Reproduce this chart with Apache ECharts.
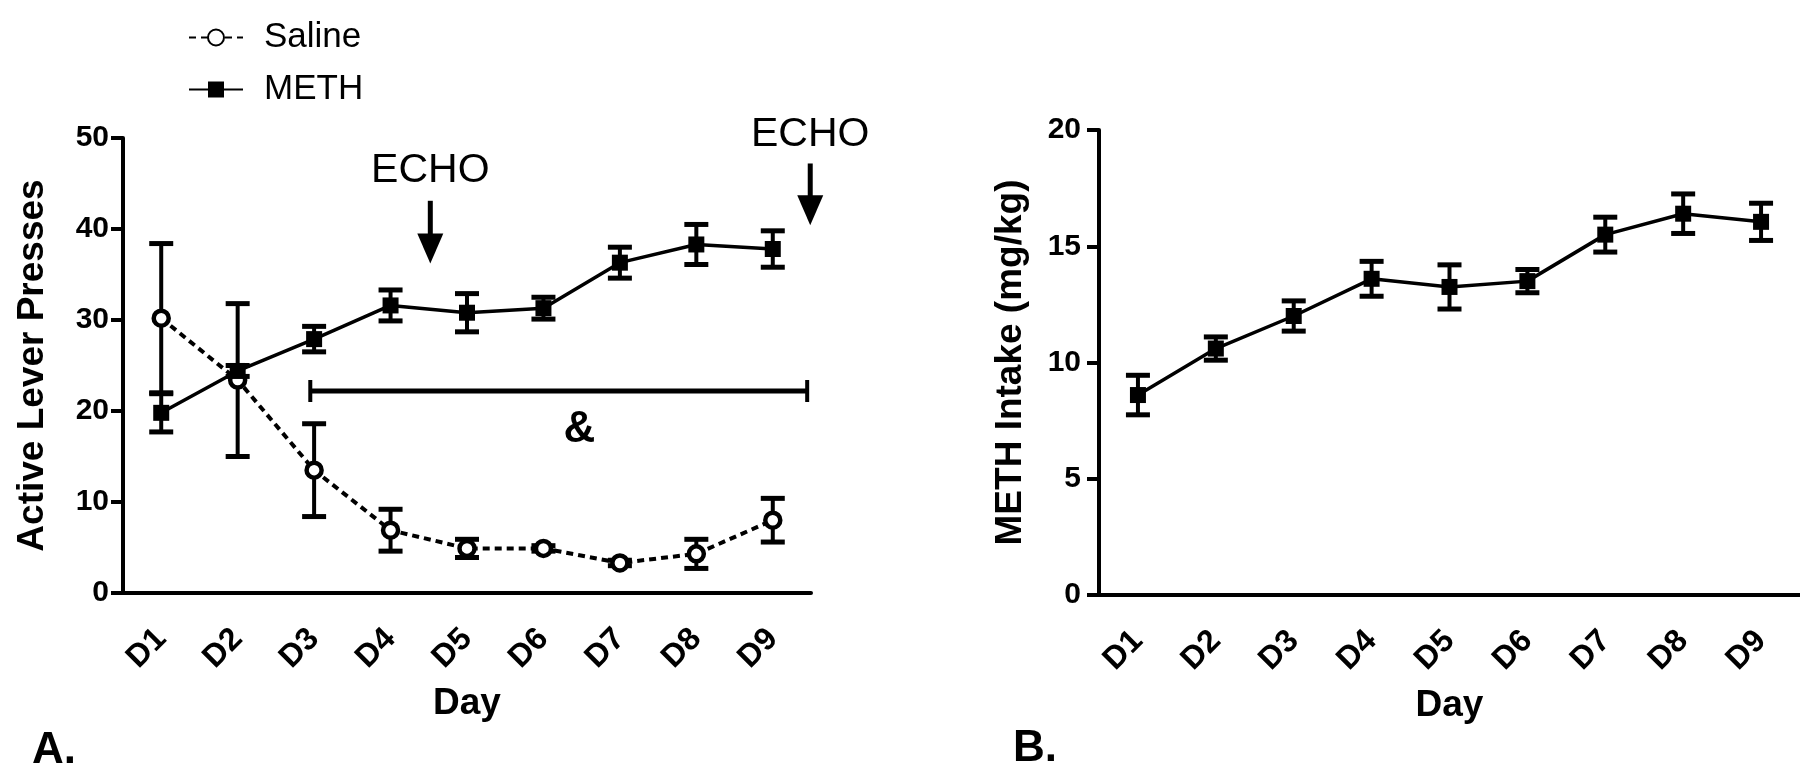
<!DOCTYPE html>
<html>
<head>
<meta charset="utf-8">
<title>Active lever presses and METH intake</title>
<script src="https://cdn.jsdelivr.net/npm/echarts@6/dist/echarts.min.js"></script>
<style>
  html, body { margin: 0; padding: 0; background: #fff; }
  #main { width: 1800px; height: 780px; }
</style>
</head>
<body>
<div id="main"></div>
<script>
const FONT = '"Liberation Sans", Arial, sans-serif'

const days = ['D1', 'D2', 'D3', 'D4', 'D5', 'D6', 'D7', 'D8', 'D9']

// panel A - active lever presses (mean, SEM)
const salineMean = [30.2, 23.4, 13.5, 6.9, 4.9, 4.9, 3.3, 4.3, 8.0]
const salineSem = [8.2, 8.4, 5.1, 2.3, 1.0, 0.3, 0.3, 1.6, 2.4]
const methMean = [19.8, 24.4, 27.9, 31.6, 30.8, 31.3, 36.3, 38.3, 37.8]
const methSem = [2.1, 0.6, 1.4, 1.7, 2.1, 1.2, 1.7, 2.2, 2.0]

// panel B - METH intake (mg/kg)
const intakeMean = [8.6, 10.6, 12.0, 13.6, 13.25, 13.5, 15.5, 16.4, 16.05]
const intakeSem = [0.85, 0.5, 0.65, 0.75, 0.95, 0.5, 0.75, 0.85, 0.8]

// annotations in panel A (x = day index, y = presses)
const echoDay = [3.52, 8.49]
const echoLabelY = [46.4, 50.4]
const echoArrowFrom = [43.1, 47.2]
const echoArrowTo = [36.2, 40.4]
const bracketDays = [1.95, 8.45]
const bracketY = 22.2
const ampDay = 5.47
const ampY = 17.9

const errData = (mean, sem) => mean.map((m, i) => [i, m - sem[i], m + sem[i]])

function renderErr(params, api) {
  const x = api.value(0)
  const lo = api.coord([x, api.value(1)])
  const hi = api.coord([x, api.value(2)])
  const half = 12
  const st = { stroke: '#000', lineWidth: 4 }
  const cap = { stroke: '#000', lineWidth: 5 }
  return {
    type: 'group',
    children: [
      { type: 'line', shape: { x1: lo[0], y1: lo[1], x2: hi[0], y2: hi[1] }, style: st },
      { type: 'line', shape: { x1: hi[0] - half, y1: hi[1], x2: hi[0] + half, y2: hi[1] }, style: cap },
      { type: 'line', shape: { x1: lo[0] - half, y1: lo[1], x2: lo[0] + half, y2: lo[1] }, style: cap }
    ]
  }
}

function renderEcho(params, api) {
  const x = api.value(0)
  const label = api.coord([x, api.value(1)])
  const from = api.coord([x, api.value(2)])
  const tip = api.coord([x, api.value(3)])
  const headH = 30
  const headW = 13
  return {
    type: 'group',
    children: [
      {
        type: 'text',
        x: label[0],
        y: label[1],
        style: { text: 'ECHO', font: '41px ' + FONT, fill: '#000', align: 'center', verticalAlign: 'middle' }
      },
      { type: 'line', shape: { x1: from[0], y1: from[1], x2: from[0], y2: tip[1] - headH + 2 }, style: { stroke: '#000', lineWidth: 5 } },
      {
        type: 'polygon',
        shape: { points: [[tip[0] - headW, tip[1] - headH], [tip[0] + headW, tip[1] - headH], [tip[0], tip[1]]] },
        style: { fill: '#000' }
      }
    ]
  }
}

function renderBracket(params, api) {
  const a = api.coord([api.value(0), api.value(2)])
  const b = api.coord([api.value(1), api.value(2)])
  const amp = api.coord([api.value(3), api.value(4)])
  const st = { stroke: '#000', lineWidth: 5 }
  return {
    type: 'group',
    children: [
      { type: 'line', shape: { x1: a[0], y1: a[1], x2: b[0], y2: b[1] }, style: st },
      { type: 'line', shape: { x1: a[0], y1: a[1] - 11, x2: a[0], y2: a[1] + 11 }, style: { stroke: '#000', lineWidth: 4 } },
      { type: 'line', shape: { x1: b[0], y1: b[1] - 11, x2: b[0], y2: b[1] + 11 }, style: { stroke: '#000', lineWidth: 4 } },
      {
        type: 'text',
        x: amp[0],
        y: amp[1],
        style: { text: '&', font: 'bold 44px ' + FONT, fill: '#000', align: 'center', verticalAlign: 'middle' }
      }
    ]
  }
}

const catAxis = (gridIndex) => ({
  type: 'category',
  gridIndex: gridIndex,
  data: days,
  boundaryGap: true,
  name: 'Day',
  nameLocation: 'middle',
  nameGap: 92,
  nameTextStyle: { color: '#000', fontSize: 37, fontWeight: 'bold', fontFamily: FONT },
  axisLine: { onZero: false, lineStyle: { color: '#000', width: 4 } },
  axisTick: { alignWithLabel: true, length: 15, lineStyle: { color: '#000', width: 4 } },
  axisLabel: { rotate: 45, margin: 41, color: '#000', fontSize: 32, fontWeight: 'bold', fontFamily: FONT },
  splitLine: { show: false }
})

const valAxis = (gridIndex, max, interval, name, gap, margin) => ({
  type: 'value',
  gridIndex: gridIndex,
  min: 0,
  max: max,
  interval: interval,
  name: name,
  nameLocation: 'middle',
  nameGap: gap,
  nameTextStyle: { color: '#000', fontSize: 37, fontWeight: 'bold', fontFamily: FONT },
  axisLine: { show: true, onZero: false, lineStyle: { color: '#000', width: 4 } },
  axisTick: { show: true, length: 12, lineStyle: { color: '#000', width: 4 } },
  axisLabel: { margin: margin, color: '#000', fontSize: 30, fontWeight: 'bold', fontFamily: FONT },
  splitLine: { show: false }
})

const chart = echarts.init(document.getElementById('main'))
chart.setOption({
  backgroundColor: '#fff',
  animation: false,
  title: [
    { text: 'A.', left: 27, top: 724, textStyle: { fontSize: 44, fontWeight: 'bold', color: '#000', fontFamily: FONT } },
    { text: 'B.', left: 1008, top: 722, textStyle: { fontSize: 44, fontWeight: 'bold', color: '#000', fontFamily: FONT } }
  ],
  legend: {
    orient: 'vertical',
    left: 183,
    top: 15,
    itemWidth: 54,
    itemHeight: 20,
    itemGap: 17,
    data: ['Saline', 'METH'],
    textStyle: { fontSize: 35, color: '#000', fontFamily: FONT, padding: [0, 0, 0, 16] }
  },
  grid: [
    { left: 123, top: 138, width: 688, height: 455 },
    { left: 1099, top: 130, width: 701, height: 465 }
  ],
  xAxis: [
    catAxis(0),
    { type: 'value', gridIndex: 0, min: -0.5, max: 8.5, show: false },
    catAxis(1)
  ],
  yAxis: [
    valAxis(0, 50, 10, 'Active Lever Presses', 72, 14),
    valAxis(1, 20, 5, 'METH Intake (mg/kg)', 70, 18)
  ],
  series: [
    {
      name: 'Saline SEM',
      type: 'custom',
      xAxisIndex: 0,
      yAxisIndex: 0,
      renderItem: renderErr,
      encode: { x: 0, y: [1, 2] },
      data: errData(salineMean, salineSem),
      z: 1
    },
    {
      name: 'METH SEM',
      type: 'custom',
      xAxisIndex: 0,
      yAxisIndex: 0,
      renderItem: renderErr,
      encode: { x: 0, y: [1, 2] },
      data: errData(methMean, methSem),
      z: 1
    },
    {
      name: 'Saline',
      type: 'line',
      xAxisIndex: 0,
      yAxisIndex: 0,
      data: salineMean,
      symbol: 'circle',
      symbolSize: 15,
      itemStyle: { color: '#fff', borderColor: '#000', borderWidth: 4.5 },
      lineStyle: { color: '#000', width: 4, type: [7, 5] },
      z: 3
    },
    {
      name: 'METH',
      type: 'line',
      xAxisIndex: 0,
      yAxisIndex: 0,
      data: methMean,
      symbol: 'rect',
      symbolSize: 16,
      itemStyle: { color: '#000' },
      lineStyle: { color: '#000', width: 3.5 },
      z: 4
    },
    {
      name: 'ECHO',
      type: 'custom',
      xAxisIndex: 1,
      yAxisIndex: 0,
      clip: false,
      renderItem: renderEcho,
      encode: { x: 0, y: [1, 2, 3] },
      data: echoDay.map((d, i) => [d, echoLabelY[i], echoArrowFrom[i], echoArrowTo[i]]),
      z: 5
    },
    {
      name: 'bracket',
      type: 'custom',
      xAxisIndex: 1,
      yAxisIndex: 0,
      clip: false,
      renderItem: renderBracket,
      encode: { x: [0, 1], y: 2 },
      data: [[bracketDays[0], bracketDays[1], bracketY, ampDay, ampY]],
      z: 5
    },
    {
      name: 'Intake SEM',
      type: 'custom',
      xAxisIndex: 2,
      yAxisIndex: 1,
      renderItem: renderErr,
      encode: { x: 0, y: [1, 2] },
      data: errData(intakeMean, intakeSem),
      z: 1
    },
    {
      name: 'METH intake',
      type: 'line',
      xAxisIndex: 2,
      yAxisIndex: 1,
      data: intakeMean,
      symbol: 'rect',
      symbolSize: 16,
      itemStyle: { color: '#000' },
      lineStyle: { color: '#000', width: 3.5 },
      z: 4
    }
  ]
})
</script>
</body>
</html>
